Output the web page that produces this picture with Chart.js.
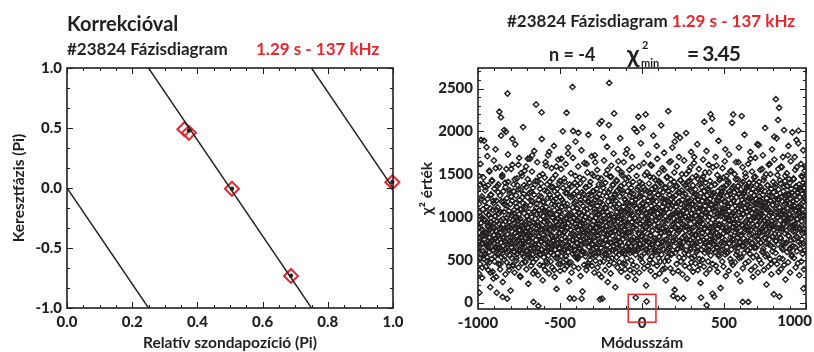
<!DOCTYPE html>
<html>
<head>
<meta charset="utf-8">
<script src="https://cdn.jsdelivr.net/npm/chart.js@4.4.1/dist/chart.umd.min.js"></script>
<style>
  body { margin: 0; width: 814px; height: 352px; overflow: hidden; position: relative; background: #fff;
         font-family: Lato, sans-serif; font-weight: 700; color: #231f20; }
  canvas { position: absolute; top: 0; }
  .t { position: absolute; white-space: nowrap; line-height: 1; }
  .red { color: #e6282e; }
</style>
</head>
<body>
<canvas id="phaseChart" width="410" height="352" style="left:0"></canvas>
<canvas id="chiChart" width="404" height="352" style="left:410px"></canvas>

<div class="t" style="left:67px;top:13px;font-size:20px">Korrekcióval</div>
<div class="t" style="left:67px;top:40px;font-size:17px">#23824 Fázisdiagram</div>
<div class="t red" style="left:256px;top:40px;font-size:17px">1.29 s - 137 kHz</div>

<div class="t" style="left:507px;top:12px;font-size:17px">#23824 Fázisdiagram <span class="red">1.29 s - 137 kHz</span></div>
<div class="t" style="left:549px;top:45px;font-size:18px">n = -4</div>
<div class="t" style="left:627px;top:41px;font-size:25px">χ</div>
<div class="t" style="left:642px;top:39px;font-size:11px">2</div>
<div class="t" style="left:641px;top:57px;font-size:11px">min</div>
<div class="t" style="left:687px;top:42px;font-size:21px;letter-spacing:-1px">= 3.45</div>

<script>
// left panel: probe positions and cross phases (units of Pi)
const probePos   = [0.360, 0.374, 0.506, 0.687, 0.998];
const crossPhase = [0.49, 0.46, -0.006, -0.733, 0.048];
const dotPos     = [0.374, 0.506, 0.687, 0.998];
const dotPhase   = [0.48, -0.006, -0.73, 0.05];
// fitted n = -4 line, wrapped into [-1, 1]: [x0, y0, x1, y1]
const fitLines = [
  [0.00, 0, 0.25, -1],
  [0.25, 1, 0.75, -1],
  [0.75, 1, 1.00, 0]
];
const phaseXTicks = [0, 0.2, 0.4, 0.6, 0.8, 1.0];
const phaseYTicks = [-1, -0.5, 0, 0.5, 1];

// right panel: chi^2 value per mode number, even modes -1000..1000 and odd modes -999..999
const chiEven = [
  1320, 880, 640, 1150, 116, 760, 1010, 1380, 520, 1899, 930, 690, 1240, 410, 850, 1090, 600, 1460, 780, 970,
  1180, 560, 1310, 820, 700, 1050, 1814, 940, 480, 1210, 660, 1370, 880, 1020, 590, 1530, 760, 1100, 350, 990,
  1260, 720, 830, 1420, 610, 1080, 920, 280, 1160, 690, 1330, 870, 540, 1010, 1570, 750, 1190, 116, 640, 950,
  1110, 790, 1380, 580, 1040, 2229, 860, 1250, 450, 960, 2163, 700, 1180, 620, 1490, 66, 910, 1300, 770, 1060,
  2015, 540, 1140, 830, 1350, 1996, 680, 990, 1220, 46, 2442, 880, 1410, 610, 1070, 380, 940, 1280, 720, 1150,
  870, 1560, 650, 1020, 1190, 1911, 760, 430, 1300, 930, 1080, 590, 1440, 810, 1000, 690, 1250, 520, 1120, 880,
  1370, 720, 960, 1610, 600, 1030, 840, 1200, 310, 980, 1320, 760, 1090, 650, 1480, 900, 570, 1160, 800, 1270,
  690, 1040, 1540, 830, 470, 1110, 950, 1350, 610, 1010, 780, 1230, 1680, 870, 560, 1060, 720, 1400, 920, 640,
  1140, 850, 1290, 520, 1000, 1720, 760, 1180, 340, 8, 930, 1260, 680, 1070, 1380, 590, 910, 2314, 820, 1150,
  1030, 640, 1420, 900, -39, 1200, 780, 1080, 560, 1330, 970, 710, 1240, 620, 2221, 1100, 860, 1500, 430, 1010,
  1180, 750, 940, 1310, 600, 1060, 1640, 820, 1120, 480, 990, 1380, 700, 1220, 880, 550, 1090, 1760, 640, 1260,
  910, 1040, 580, 1350, 790, 1150, 660, 1000, 1450, 730, 1190, 860, 380, 1080, 1300, 620, 950, 1210, 770, 1590,
  1030, 690, 1270, 870, 520, 1140, 980, 1390, 640, 1060, 810, 1230, 450, 1000, 1680, 740, 1120, 900, 590, 1340,
  820, 1170, 960, 620, 1410, 1050, 760, 1280, 540, 990, 2217, 880, 1150, 680, 1320, 1810, 930, 460, 1090, 710,
  50, 1230, 850, 1040, 620, 1360, 940, 730, 2519, 1110, 2004, 800, 1270, 46, 990, 660, 1180, 1480, 570, 1020,
  880, 1300, 700, 1100, 530, 960, 1984, 1240, 780, 1050, 640, 1390, 910, 1160, 720, 1020, 46, 1290, 850, 600,
  1130, 960, 1440, 690, 1070, 820, 1210, 580, 1000, 1340, 750, 1620, 890, 1180, 430, 1040, 790, 1260, 650, 980,
  1370, 720, 1110, 880, 560, 1250, 1010, 680, 1500, 830, 1160, 620, 950, 1300, 760, 1090, 1720, 540, 1200, 870,
  990, 640, 1330, 780, 1130, 920, 1460, 600, 1040, 330, 1270, 850, 39, 1080, 700, 1210, 960, 2120, 1380, 46,
  1150, 690, 1930, 1020, 810, 1290, 560, 940, 1400, 740, 1100, 890, 1240, 620, 1060, 1550, 800, 1180, 510, 2073,
  2566, 970, 1320, 700, 1140, 860, 1470, 610, 1030, 1220, 780, 1380, 950, 1110, 660, 2209, 1000, 1270, 840, 590,
  1190, 910, 1430, 730, 1060, 1310, 640, 1000, 1650, 820, 1150, 560, 1240, 980, 710, 1360, 880, 1080, 1520, 670,
  1010, 1280, 790, 1120, 600, 940, 1390, 850, 1200, 450, 1060, 1740, 760, 1170, 930, 620, 1300, 1040, 820, 1460,
  700, 1130, 980, 1250, 580, 1070, 820, 1340, 660, 1190, 940, 1580, 730, 1020, 1270, 880, 350, 1150, 990, 610,
  1210, 58, 860, 1100, 1996, 740, 1320, 960, 610, 2170, 1050, 1230, 800, 1410, 690, 1130, 920, 540, 1280, 1010,
  770, 1160, 2046, 900, 1350, 650, 1080, 1220, 830, 1490, 980, 2198, 720, 1140, 12, 1040, 1300, 590, 960, 1190,
  860, 1390, 700, 1060, 1240, 920, 1610, 780, 1130, 540, 1000, 1330, 840, 1210, 680, 1460, 1070, 910, 1280, 620,
  1100, 960, 1350, 730, 1180, 1830, 850, 1040, 1260, 600, 990, 1420, 770, 1150, 890, 1310, 480, 1070, 1220, 810,
  1380, 660, 1120, 940, 1290, 720, 1050, 1550, 830, 1170, 400, 1010, 1340, 880, 1200, 740, 1090, 1470, 620, 960,
  2236, 1140, 800, 1260, 990, 1380, 680, 1100, 1650, 850, 1210, 570, 1030, 1320, 920, 78, 1170, 760, 1410, 1040,
  1880, 890, 1250, 700, 1120, 1957, 960, 1360, 620, 50, 1080, 1290, 830, 1180, 720, 1020, 1926, 1430, 870, 1150,
  660, 1310, 990, 1200, 760, 1070, 50, 1390, 910, 1130, 580, 1270, 1000, 840, 1500, 1160, 730, 1050, 1340, 890,
  1220, 700, 1110, 960, 1420, 820, 1190, 1580, 640, 1040, 1300, 870, 1150, 520, 980, 1370, 760, 1090, 1240, 1700,
  940, 1180, 680, 1320, 1010, 790, 1260, 1100, 610, 1450, 900, 1200, 750, 1060, 1380, 850, 1140, 440, 990, 1280,
  58, 1020, 1350, 770, 1190, 920, 1470, 650, 1080, 1230, 2112, 860, 1130, 1000, 1400, 710, 1060, -31, 1250, 830,
  1170, 960, 1310, 620, 1090, 1520, 880, 1210, 740, 2201, 1040, 1360, 820, 1150, 2151, 105, 970, 1280, 690, 1100,
  70, 1240, 900, 1380, 760, 1120, 1000, 1600, 650, 1190, 860, 1300, 1040, 560, 1230, 920, 1430, 780, 1080, 1260,
  1010, 700, 1150, 1340, 880, 1210, 620, 1060, 1460, 810, 1180, 990, 1290, 730, 1790, 1100, 870, 1370, 580, 1020,
  1250, 840, 1120, 960, 1400, 690, 1070, 1300, 910, 1530, 760, 1160, 1020, 470, 1220, 880, 1340, 1050, 2198, 930,
  1190, 740, 1290, 1010, 650, 1130, 1440, 860, 1230, 980, 590, 1100, 1360, 800, 1640, 1060, 920, 1270, 710, 1150,
  990, 1320, 780, 1080, 2178, 1200, 900, 8, 1410, 1040, 660, 1170, 1290, 830, 1100, 1510, 940, 1240, 720, 1060,
  1360, 880, 1140, 610, 8, 1220, 1010, 1400, 790, 1120, 960, 1680, 850, 1280, 1050, 690, 1190, 920, 1330, 530,
  1090, 1250, 770, 1160, 990, 1470, 860, 1210, 640, 1070, 1380, 900, 1150, 1000, 730, 1320, 1840, 1040, 1240, 810,
  1130, 950, 1350, 700, 1180, 1030, 1560, 830, 1260, 600, 1090, 1430, 880, 1170, 960, 1300, 750, 1100, 1500, 920,
  1220, 800, 1080, 1370, 940, 1160, 680, 1290, 1020, 1620, 860, 1190, 1060, 450, 1330, 910, 1240, 770, 1140, 1000,
  1410, 850, 97, 1938, 1200, 930, 1350, 720, 2376, 1090, 1260, 870, 1170, 1490, 1000, 2132, 1320, 800, 2275, 70,
  1110, 960, 1390, 750, 1230, 1040, 1580, 880, 1180, 620, 1070, 1300, 910, 2015, 1150, 990, 1420, 690, 1250, 1020,
  840, 1190, 1360, 960, 1100, 1720, 780, 1270, 1030, 1440, 870, 1160, 640, 1210, 980, 1330, 1090, 560, 1280, 900,
  1180, 1010, 1450, 740, 1130, 1260, 920, 1550, 830, 1070, 1350, 1899, 1200, 970, 1290, 760, 1120, 2008, 1040, 1380,
  880, 1230, 1060, 1310, 690, 1150, 1480, 950, 1270, 810, 1090, 1400, 163, 1180, 1020, 1340, 860, 1210, 1590, 1000,
  1300
];
const chiOdd = [
  620, 1480, 340, 870, 1050, 710, 450, 1620, 930, 560, 780, 1210, 290, 990, 690, 1390, 820, 510, 1890, 740,
  580, 960, 1350, 420, 810, 670, 1120, 530, 1710, 900, 640, 380, 1030, 760, 1540, 470, 850, 180, 1260, 700,
  940, 510, 1430, 730, 360, 880, 1190, 610, 1660, 790, 480, 1010, 650, 1790, 840, 300, 1080, 720, 1360, 560,
  770, 1290, 450, 920, 640, 1580, 820, 390, 1060, 700, 1950, 530, 870, 1470, 610, 240, 980, 750, 1180, 500,
  860, 620, 1400, 330, 950, 710, 1560, 470, 1130, 800, 590, 1730, 680, 1020, 420, 890, 1310, 550, 760, 140,
  690, 1240, 520, 830, 1610, 440, 960, 730, 1380, 600, 1040, 350, 870, 1850, 660, 1160, 490, 780, 1450, 910,
  570, 990, 1320, 410, 740, 1690, 850, 620, 1090, 300, 800, 1510, 690, 940, 460, 1230, 720, 2050, 540, 880,
  1370, 650, 910, 480, 1140, 760, 1590, 390, 830, 1010, 600, 1440, 710, 220, 960, 530, 1280, 840, 1680, 620,
  780, 430, 1190, 900, 1530, 560, 700, 1340, 470, 1060, 820, 1770, 640, 370, 980, 1420, 730, 510, 1110, 860,
  1640, 590, 940, 320, 770, 1250, 680, 1480, 440, 1030, 850, 560, 1390, 710, 1910, 620, 900, 260, 1170, 790,
  530, 1080, 690, 1460, 380, 870, 740, 1600, 590, 960, 1300, 460, 810, 1720, 650, 1050, 340, 920, 1410, 700,
  860, 480, 1220, 630, 1570, 770, 410, 990, 1350, 560, 720, 1830, 880, 300, 1140, 670, 1490, 520, 940, 160,
  740, 1330, 580, 900, 1670, 450, 810, 1070, 630, 1420, 370, 960, 700, 1560, 540, 850, 1200, 690, 2000, 470,
  920, 610, 1450, 390, 830, 1130, 720, 1620, 500, 980, 660, 1280, 430, 870, 1740, 590, 1010, 250, 760, 1380,
  640, 1020, 470, 1510, 800, 350, 940, 1240, 570, 1690, 730, 880, 420, 1160, 620, 1400, 790, 1880, 530, 960,
  1100, 690, 1370, 510, 850, 1590, 400, 770, 1040, 620, 1460, 900, 310, 1200, 680, 1780, 560, 930, 130, 820,
  590, 1270, 740, 440, 1630, 880, 1000, 540, 1350, 700, 380, 1090, 810, 1520, 460, 950, 1960, 650, 1180, 730,
  870, 500, 1410, 760, 1150, 600, 1710, 430, 910, 1300, 680, 560, 1480, 830, 350, 1060, 720, 1640, 490, 990,
  1230, 650, 880, 1550, 410, 790, 1020, 580, 1380, 710, 2090, 920, 470, 1170, 640, 1450, 300, 860, 1060, 550,
  760, 1340, 480, 970, 1660, 620, 840, 380, 1110, 730, 1500, 560, 900, 1820, 670, 240, 1010, 790, 1290, 440,
  1020, 590, 1470, 810, 340, 940, 1600, 700, 520, 1190, 870, 1370, 610, 1740, 460, 960, 720, 1250, 180, 830,
  680, 1120, 530, 1420, 890, 410, 1560, 760, 1000, 620, 1330, 470, 850, 1920, 700, 1060, 360, 930, 1490, 580,
  1310, 740, 460, 990, 1640, 570, 860, 1210, 390, 780, 1450, 650, 1080, 520, 1790, 900, 300, 1150, 690, 1380,
  820, 1550, 610, 380, 1040, 730, 1280, 490, 940, 1700, 600, 870, 1410, 440, 760, 1130, 2030, 660, 990, 270,
  560, 1200, 900, 1480, 420, 720, 1060, 630, 1350, 810, 1590, 350, 970, 680, 1250, 510, 1860, 780, 1100, 640,
  1390, 470, 850, 1150, 700, 1630, 400, 910, 580, 1320, 760, 1050, 200, 880, 1520, 620, 990, 430, 1730, 710,
  930, 640, 1280, 500, 1470, 790, 370, 1070, 680, 1600, 540, 840, 1190, 460, 1950, 720, 1030, 600, 1350, 310,
  750, 1430, 590, 960, 1110, 430, 1680, 690, 880, 1260, 520, 1510, 770, 340, 1000, 650, 1400, 820, 2070, 560,
  1060, 710, 1570, 390, 870, 1210, 620, 1750, 480, 950, 730, 1340, 260, 1090, 600, 1460, 840, 530, 1180, 680,
  490, 1300, 820, 1640, 650, 1010, 400, 1440, 760, 560, 1140, 900, 1810, 610, 350, 1230, 720, 980, 1520, 150,
  870, 580, 1360, 740, 1060, 450, 1590, 810, 630, 1170, 370, 960, 1700, 530, 850, 1290, 690, 1430, 480, 1020,
  640, 1500, 920, 330, 1250, 700, 1080, 520, 1660, 780, 430, 1370, 890, 610, 1980, 750, 1120, 280, 970, 1410,
  1180, 560, 860, 1540, 410, 730, 1320, 980, 620, 1760, 470, 1040, 800, 1460, 690, 360, 1150, 880, 1630, 540,
  790, 1270, 460, 1020, 700, 1480, 590, 920, 1850, 650, 380, 1210, 830, 1560, 510, 960, 1100, 720, 230, 1390,
  950, 620, 1440, 810, 500, 1090, 1670, 730, 420, 1300, 870, 580, 1520, 690, 1040, 340, 1770, 760, 1190, 600,
  1330, 480, 900, 1610, 660, 1000, 390, 1420, 780, 550, 1140, 2010, 710, 880, 1260, 450, 1580, 830, 620, 1070,
  720, 1380, 590, 930, 1700, 430, 820, 1160, 640, 1490, 360, 1010, 770, 1890, 540, 900, 1230, 680, 1450, 170,
  1050, 610, 1290, 760, 480, 1570, 870, 1090, 420, 1350, 700, 940, 1650, 560, 1180, 310, 830, 1480, 650, 990,
  580, 1420, 840, 1130, 370, 1730, 690, 960, 1270, 510, 800, 1540, 620, 1020, 2100, 740, 440, 1190, 880, 1360,
  920, 680, 1500, 470, 1070, 820, 1640, 560, 980, 330, 1310, 760, 1440, 640, 870, 1810, 520, 1130, 700, 250,
  1240, 790, 530, 1390, 910, 660, 1580, 400, 1030, 750, 1270, 580, 1960, 860, 1110, 460, 1470, 690, 960, 1340,
  610, 1180, 850, 1620, 480, 930, 720, 1350, 570, 1080, 1760, 640, 380, 1220, 800, 1530, 700, 990, 300, 1400,
  880, 1460, 640, 1000, 420, 1690, 780, 1150, 550, 1300, 910, 1850, 670, 350, 1060, 740, 1410, 500, 1200, 830,
  1550, 700, 970, 460, 1320, 860, 590, 1120, 1720, 630, 1010, 380, 1460, 760, 900, 2040, 540, 1170, 690, 210,
  980, 560, 1370, 820, 1090, 420, 1610, 740, 880, 1250, 510, 1500, 670, 1040, 330, 950, 1790, 600, 1140, 770,
  640, 1290, 910, 1670, 490, 800, 1380, 580, 1060, 720, 1920, 450, 990, 1200, 680, 1560, 360, 870, 1110, 520,
  1430, 760, 1020, 390, 1590, 860, 640, 1240, 510, 1700, 920, 700, 1350, 440, 1080, 810, 1480, 270, 960, 1160,
  700, 1510, 590, 940, 1260, 470, 1830, 780, 1030, 620, 1400, 350, 890, 1650, 730, 1120, 540, 990, 1990, 660,
  1190, 830, 1440, 520, 900, 1700, 650, 1080, 410, 1360, 770, 1580, 600, 980, 1280, 460, 1860, 710, 1050, 320,
  860, 1340, 630, 1120, 1620, 480, 950, 740, 1470, 570, 1010, 1780, 690, 390, 1230, 820, 1540, 610, 900, 1380
];
const chiXTicks = [-1000, -500, 0, 500, 1000];
const chiYTicks = [0, 500, 1000, 1500, 2000, 2500];
// highlighted minimum around n = 0
const minBox = { x0: -84, x1: 85, y0: 96, y1: -229 };

const ink = '#231f20';
const red = '#e6282e';
const tickFont = { family: 'Lato', size: 15, weight: '900' };
const titleFont = { family: 'Lato', size: 15.5, weight: '700' };

// IDL-like box with inward major and minor ticks on all four sides
const boxTicks = {
  id: 'boxTicks',
  afterDatasetsDraw(chart, args, o) {
    const { ctx, chartArea: a, scales: { x, y } } = chart;
    ctx.save();
    ctx.strokeStyle = ink;
    ctx.lineWidth = 1;
    const each = (min, max, minor, major, fn) => {
      const k0 = Math.ceil(min / minor - 1e-9), k1 = Math.floor(max / minor + 1e-9);
      for (let k = k0; k <= k1; k++) {
        const v = k * minor;
        fn(v, Math.abs(v / major - Math.round(v / major)) < 1e-6);
      }
    };
    ctx.beginPath();
    each(x.min, x.max, o.xMinor, o.xMajor, (v, m) => {
      const p = Math.round(x.getPixelForValue(v)) + 0.5, l = m ? 6 : 3;
      ctx.moveTo(p, a.bottom); ctx.lineTo(p, a.bottom - l);
      ctx.moveTo(p, a.top); ctx.lineTo(p, a.top + l);
    });
    each(y.min, y.max, o.yMinor, o.yMajor, (v, m) => {
      const p = Math.round(y.getPixelForValue(v)) + 0.5, l = m ? 6 : 3;
      ctx.moveTo(a.left, p); ctx.lineTo(a.left + l, p);
      ctx.moveTo(a.right, p); ctx.lineTo(a.right - l, p);
    });
    ctx.stroke();
    ctx.lineWidth = 1.6;
    ctx.strokeRect(a.left, a.top, a.right - a.left, a.bottom - a.top);
    if (o.box) {
      const b = o.box;
      const x0 = x.getPixelForValue(b.x0), x1 = x.getPixelForValue(b.x1);
      const y0 = y.getPixelForValue(b.y0), y1 = y.getPixelForValue(b.y1);
      ctx.strokeStyle = red;
      ctx.lineWidth = 1.5;
      ctx.strokeRect(x0, y0, x1 - x0, y1 - y0);
    }
    // last x label is pulled inside the figure edge, like IDL does
    if (o.edgeLabel) {
      ctx.fillStyle = ink;
      ctx.font = `${tickFont.weight} ${tickFont.size}px ${tickFont.family}`;
      ctx.textAlign = 'right';
      ctx.textBaseline = 'top';
      ctx.fillText(String(o.edgeLabel), chart.width - 2, a.bottom + 5);
    }
    ctx.restore();
  }
};

function axis(min, max, ticks, fmt, title, size, padTitle) {
  return {
    type: 'linear', min, max,
    afterBuildTicks: s => { s.ticks = ticks.map(v => ({ value: v })); },
    afterFit: s => {
      if (s.isHorizontal()) s.height = size; else s.width = size;
      // labels may overhang the plot box, as in the original figure
      s.paddingLeft = s.paddingRight = s.paddingTop = s.paddingBottom = 0;
    },
    grid: { display: false, drawTicks: false },
    border: { display: false },
    ticks: { color: ink, font: tickFont, padding: 5, callback: fmt, maxRotation: 0, autoSkip: false },
    title: { display: true, text: title, color: ink, font: titleFont, padding: padTitle }
  };
}

const phaseData = {
  datasets: [
    ...fitLines.map(l => ({
      type: 'line',
      data: [{ x: l[0], y: l[1] }, { x: l[2], y: l[3] }],
      borderColor: ink, borderWidth: 1.4, pointRadius: 0, fill: false
    })),
    {
      type: 'scatter',
      data: dotPos.map((v, i) => ({ x: v, y: dotPhase[i] })),
      pointStyle: 'circle', pointRadius: 2.2, backgroundColor: ink, borderColor: ink, borderWidth: 0,
      clip: false
    },
    {
      type: 'scatter',
      data: probePos.map((v, i) => ({ x: v, y: crossPhase[i] })),
      pointStyle: 'rectRot', pointRadius: 7, borderColor: red, borderWidth: 2,
      backgroundColor: 'rgba(0,0,0,0)', clip: false
    }
  ]
};

new Chart(document.getElementById('phaseChart'), {
  type: 'scatter',
  data: phaseData,
  options: {
    responsive: false, animation: false, devicePixelRatio: 1,
    layout: { autoPadding: false, padding: { left: 0, right: 17, top: 68, bottom: 0 } },
    plugins: { legend: { display: false }, tooltip: { enabled: false },
               boxTicks: { xMinor: 0.05, xMajor: 0.2, yMinor: 0.5 / 3, yMajor: 0.5 } },
    scales: {
      x: axis(0, 1, phaseXTicks, v => v.toFixed(1), 'Relatív szondapozíció (Pi)', 44, { top: 0, bottom: 0 }),
      y: axis(-1, 1, phaseYTicks, v => v.toFixed(1), 'Keresztfázis (Pi)', 67, { top: 10, bottom: 0 })
    }
  },
  plugins: [boxTicks]
});

const chiPoints = [
  ...chiEven.map((v, i) => ({ x: -1000 + 2 * i, y: v })),
  ...chiOdd.map((v, i) => ({ x: -999 + 2 * i, y: v }))
];
const lastChiTick = chiXTicks[chiXTicks.length - 1];

new Chart(document.getElementById('chiChart'), {
  type: 'scatter',
  data: {
    datasets: [{
      data: chiPoints,
      pointStyle: 'rectRot', pointRadius: 2.7, borderColor: ink, borderWidth: 1.4,
      backgroundColor: 'rgba(0,0,0,0)'
    }]
  },
  options: {
    responsive: false, animation: false, devicePixelRatio: 1,
    layout: { autoPadding: false, padding: { left: 0, right: 8, top: 68, bottom: 0 } },
    plugins: { legend: { display: false }, tooltip: { enabled: false },
               boxTicks: { xMinor: 100, xMajor: 500, yMinor: 100, yMajor: 500, box: minBox,
                           edgeLabel: lastChiTick } },
    scales: {
      x: axis(-1000, 1000, chiXTicks, v => v === lastChiTick ? '' : String(v), 'Módusszám', 43, { top: 5, bottom: 0 }),
      y: axis(-75, 2740, chiYTicks, v => String(v), 'χ² érték', 68, { top: 8, bottom: 0 })
    }
  },
  plugins: [boxTicks]
});
</script>
</body>
</html>
